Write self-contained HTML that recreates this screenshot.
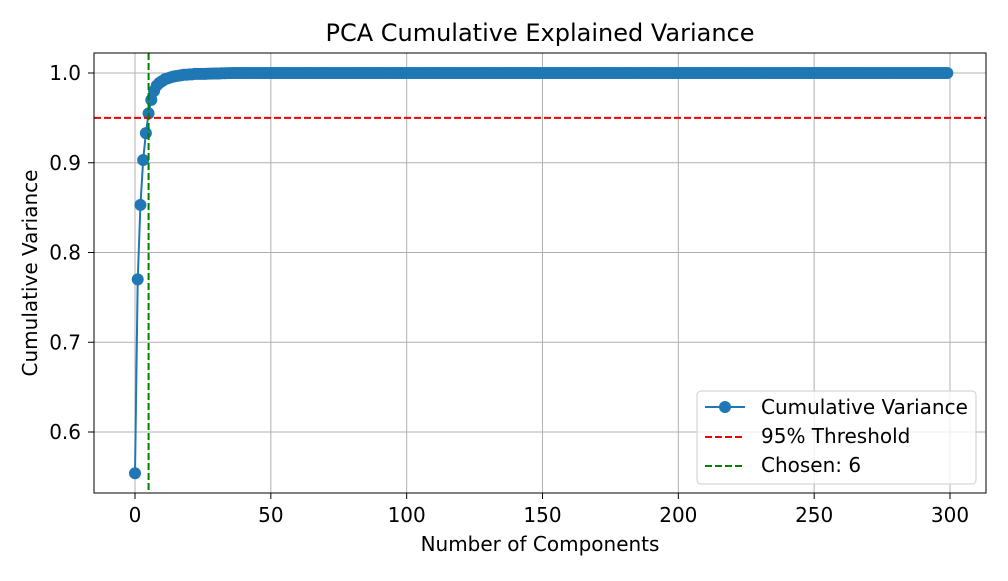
<!DOCTYPE html>
<html><head><meta charset="utf-8"><style>
body{margin:0;background:#fff}
svg text{font-family:"DejaVu Sans","Liberation Sans",sans-serif;fill:#000}
</style></head><body>
<svg id="chart" width="1008" height="576" xmlns="http://www.w3.org/2000/svg">
<rect width="1008" height="576" fill="#fff"/>
<g id="grid"></g>
<g id="marks"></g>
<rect x="94" y="53" width="892" height="440" fill="none" stroke="#000" stroke-width="1"/>
<g id="ticks"></g>
<text x="540" y="41" font-size="24" text-anchor="middle">PCA Cumulative Explained Variance</text>
<text x="540" y="551" font-size="20" text-anchor="middle">Number of Components</text>
<text transform="translate(37,273) rotate(-90)" font-size="20" text-anchor="middle">Cumulative Variance</text>
<g>
<rect x="697" y="391" width="279" height="93" rx="4" fill="#fff" fill-opacity="0.8" stroke="#ccc"/>
<g><line x1="705" y1="407" x2="745" y2="407" stroke="#1f77b4" stroke-width="2"/><circle cx="725" cy="407" r="6" fill="#1f77b4"/><text x="761" y="414" font-size="20">Cumulative Variance</text></g>
<g><line x1="705" y1="437" x2="745" y2="437" stroke="#e00" stroke-width="2" stroke-dasharray="7,3"/><text x="761" y="443" font-size="20">95% Threshold</text></g>
<g><line x1="705" y1="466" x2="745" y2="466" stroke="#008000" stroke-width="2" stroke-dasharray="7,3"/><text x="761" y="472" font-size="20">Chosen: 6</text></g>
</g>
</svg>
<script>
const earlyValues=[0.554,0.770,0.853,0.903,0.933,0.955,0.970,0.980,0.986,0.989,0.991,0.993,0.994,0.995,0.996,0.9965,0.997,0.9975,0.998,0.998,0.9985,0.9985,0.999,0.999,0.999,0.999,0.999,0.9993,0.9993,0.9995,0.9995,0.9995,0.9997,0.9997,0.9998,0.9998];
const cumulative=earlyValues.concat(Array(300-earlyValues.length).fill(1.0));
const threshold=0.95;
const chosenIndex=5;
const xTicks=[0,50,100,150,200,250,300];
const yTicks=[0.6,0.7,0.8,0.9,1.0];
const xs=v=>135+v*(950-135)/300;
const ys=v=>73+(1.0-v)*(432-73)/0.4;
const NS="http://www.w3.org/2000/svg";
function mk(p,t,a){const e=document.createElementNS(NS,t);for(const k in a)e.setAttribute(k,a[k]);p.appendChild(e);return e;}
const grid=document.getElementById('grid'),ticks=document.getElementById('ticks'),marks=document.getElementById('marks');
xTicks.forEach(t=>{const x=xs(t);
const g=mk(grid,'line',{x1:x,x2:x,y1:53,y2:493,stroke:'#b0b0b0','stroke-width':1});


mk(ticks,'line',{x1:x,x2:x,y1:493,y2:499,stroke:'#000'});
const tx=mk(ticks,'text',{x:x,y:522,'font-size':20,'text-anchor':'middle'});tx.textContent=t;

});
yTicks.forEach(t=>{const y=ys(t);
const g=mk(grid,'line',{x1:94,x2:986,y1:y,y2:y,stroke:'#b0b0b0','stroke-width':1});


mk(ticks,'line',{x1:88,x2:94,y1:y,y2:y,stroke:'#000'});
const tx=mk(ticks,'text',{x:81,y:y+7,'font-size':20,'text-anchor':'end'});tx.textContent=t.toFixed(1);

});
const line=mk(marks,'polyline',{points:cumulative.map((v,i)=>xs(i)+','+ys(v)).join(' '),fill:'none',stroke:'#1f77b4','stroke-width':2});


cumulative.forEach((v,i)=>{const c=mk(marks,'circle',{cx:xs(i),cy:ys(v),r:6,fill:'#1f77b4'});

});
const th=mk(marks,'line',{x1:94,x2:986,y1:ys(threshold),y2:ys(threshold),stroke:'#e00','stroke-width':2,'stroke-dasharray':'7,3'});


const ch=mk(marks,'line',{x1:xs(chosenIndex),x2:xs(chosenIndex),y1:53,y2:493,stroke:'#008000','stroke-width':2,'stroke-dasharray':'7,3'});


</script>
</body></html>
